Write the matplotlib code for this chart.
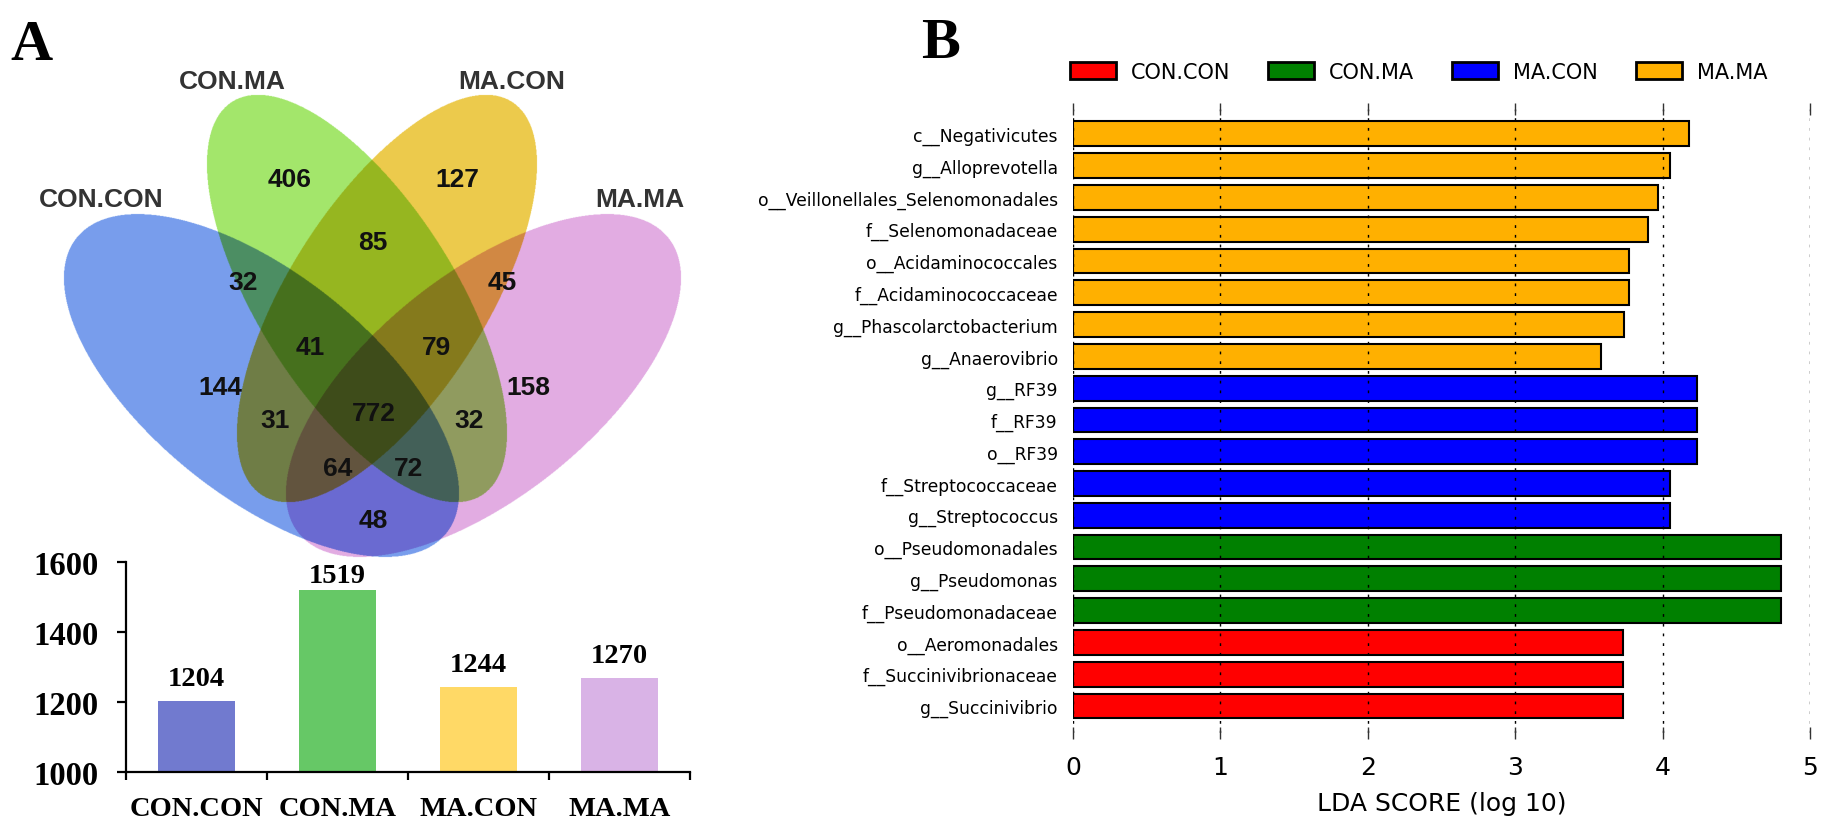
import matplotlib
matplotlib.use("Agg")
import matplotlib.pyplot as plt
import numpy as np
from matplotlib.colors import to_rgb
from matplotlib.patches import Patch

W, H = 1831, 828

# ---- data ----
groups = ["CON.CON", "CON.MA", "MA.CON", "MA.MA"]

# Venn region counts (OTUs)
venn_counts = [406, 127, 85, 32, 45, 41, 79, 144, 158, 31, 772, 32, 64, 72, 48]
otu_totals = [1204, 1519, 1244, 1270]

# LEfSe result, listed top to bottom
taxa = ["c__Negativicutes", "g__Alloprevotella", "o__Veillonellales_Selenomonadales",
        "f__Selenomonadaceae", "o__Acidaminococcales", "f__Acidaminococcaceae",
        "g__Phascolarctobacterium", "g__Anaerovibrio", "g__RF39", "f__RF39", "o__RF39",
        "f__Streptococcaceae", "g__Streptococcus", "o__Pseudomonadales", "g__Pseudomonas",
        "f__Pseudomonadaceae", "o__Aeromonadales", "f__Succinivibrionaceae", "g__Succinivibrio"]
taxa_group = ["MA.MA"] * 8 + ["MA.CON"] * 5 + ["CON.MA"] * 3 + ["CON.CON"] * 3
lda = [4.18, 4.05, 3.97, 3.90, 3.77, 3.77, 3.74, 3.58,
       4.23, 4.23, 4.23, 4.05, 4.05,
       4.80, 4.80, 4.80,
       3.73, 3.73, 3.73]

# ---- styles ----
venn_colors = ["#789EEC", "#A3E66C", "#ECCA4C", "#E2ACE2"]
# ellipse centre x, centre y, semi-axes, angle (pixel space, y down)
venn_shapes = [(261.5, 386.5, 236.6, 111.5, 38.6),
               (357, 299.5, 233, 98.5, 57.6),
               (387, 299.5, 233, 98.5, 122.4),
               (483.5, 386.5, 236.6, 111.5, 141.4)]
venn_label_xy = [(101, 200), (232, 82), (512, 82), (640, 200)]
venn_count_xy = [(290, 182), (457, 182), (373, 245), (243, 285), (502, 285),
                 (310, 350), (437, 350), (220, 390), (528, 390), (275, 423),
                 (374, 416), (469, 423), (338, 471), (409, 471), (373, 523)]
bar_colors = ["#717ACF", "#66C866", "#FFD966", "#D9B3E6"]
label_pad = [7, 1.5, 7, 7]
lefse_colors = {"CON.CON": "#FF0000", "CON.MA": "#008000",
                "MA.CON": "#0000FF", "MA.MA": "#FFB000"}

serif = "Liberation Serif"
sans = "Liberation Sans"

fig = plt.figure(figsize=(W / 100, H / 100), dpi=100)

# overlay axes in pixel coordinates for the venn diagram and panel letters
ax_v = fig.add_axes([0, 0, 1, 1], zorder=0)
ax_v.patch.set_visible(False)

xs = np.arange(0, 760, 0.5) + 0.25
ys = np.arange(80, 580, 0.5) + 0.25
X, Y = np.meshgrid(xs, ys)
img = np.ones(X.shape + (3,))
for (cx, cy, a, b, ang), col in zip(venn_shapes, venn_colors):
    t = np.deg2rad(ang)
    dx, dy = X - cx, Y - cy
    u = dx * np.cos(t) + dy * np.sin(t)
    v = -dx * np.sin(t) + dy * np.cos(t)
    inside = (u / a) ** 2 + (v / b) ** 2 <= 1
    img[inside] *= to_rgb(col)   # overlaps darken like stacked transparencies
ax_v.imshow(img, extent=(0, 760, 580, 80), interpolation="antialiased", aspect="auto")

for (x, y), name in zip(venn_label_xy, groups):
    ax_v.text(x, y, name, ha="center", va="center", fontsize=19, fontweight="bold",
              family=sans, color="#333333")
for (x, y), n in zip(venn_count_xy, venn_counts):
    ax_v.text(x, y - 2, str(n), ha="center", va="center", fontsize=19, fontweight="bold",
              family=sans, color="#111111")

ax_v.text(10, 60, "A", fontsize=42, fontweight="bold", family=serif, va="baseline")
ax_v.text(921, 58, "B", fontsize=42, fontweight="bold", family=serif, va="baseline")
ax_v.set_xlim(0, W)
ax_v.set_ylim(H, 0)
ax_v.axis("off")

# ---- bar chart of OTU totals ----
ax_b = fig.add_axes([126 / W, 1 - 773 / H, 564 / W, 210 / H], zorder=1)
ax_b.patch.set_visible(False)
xpos = np.arange(len(groups))
ax_b.bar(xpos, otu_totals, width=0.553, color=bar_colors)
for i, v in enumerate(otu_totals):
    ax_b.annotate(str(v), (xpos[i], v), xytext=(0, label_pad[i]), textcoords="offset points",
                  ha="center", va="bottom", fontsize=20.5, fontweight="bold", family=serif)
ax_b.set_xlim(-0.5, 3.5)
ax_b.set_ylim(1000, 1600)
ax_b.set_yticks([1000, 1200, 1400, 1600])
ax_b.set_xticks(xpos)
ax_b.set_xticklabels(groups)
ax_b.set_xticks(np.arange(-0.5, 4, 1), minor=True)
for sp in ["top", "right"]:
    ax_b.spines[sp].set_visible(False)
for sp in ["left", "bottom"]:
    ax_b.spines[sp].set_linewidth(1.6)
ax_b.tick_params(axis="x", which="major", length=0, pad=17)
ax_b.tick_params(axis="x", which="minor", length=6, width=1.6)
ax_b.tick_params(axis="y", length=6.5, width=1.6, pad=13)
for lab in ax_b.get_xticklabels() + ax_b.get_yticklabels():
    lab.set_family(serif)
    lab.set_fontweight("bold")
for lab in ax_b.get_xticklabels():
    lab.set_fontsize(20.5)
for lab in ax_b.get_yticklabels():
    lab.set_fontsize(23.5)

# ---- LEfSe LDA bars ----
ax = fig.add_axes([1073 / W, 1 - 733.5 / H, 737 / W, 623.5 / H], zorder=1)
n = len(taxa)
ypos = n - 1 - np.arange(n)
ax.barh(ypos, lda, height=0.78, color=[lefse_colors[g] for g in taxa_group],
        edgecolor="black", linewidth=1.5)
ax.set_yticks(ypos)
ax.set_yticklabels(taxa, fontsize=12.3)
ax.set_ylim(-0.833, n - 0.22)
ax.set_xlim(0, 5)
ax.set_xticks(range(6))
ax.grid(axis="x", color="black", linestyle=(0, (2, 5)), linewidth=1)
for sp in ax.spines.values():
    sp.set_visible(False)
ax.tick_params(axis="x", direction="inout", length=9, width=1, top=True, bottom=True,
               labelsize=18, pad=12, color="#333333")
ax.tick_params(axis="y", length=0, pad=11)
ax.set_xlabel("LDA SCORE (log 10)", fontsize=18, labelpad=8)

handles = [Patch(facecolor=lefse_colors[g], edgecolor="black", linewidth=2) for g in groups]
fig.legend(handles, groups, loc="center left", bbox_to_anchor=(1070 / W, 1 - 73 / H),
           ncol=4, frameon=False, fontsize=15, handlelength=2.2, handleheight=0.87,
           handletextpad=0.7, columnspacing=1.85, borderaxespad=0, borderpad=0)

fig.savefig("out.png", dpi=100, facecolor="white")
